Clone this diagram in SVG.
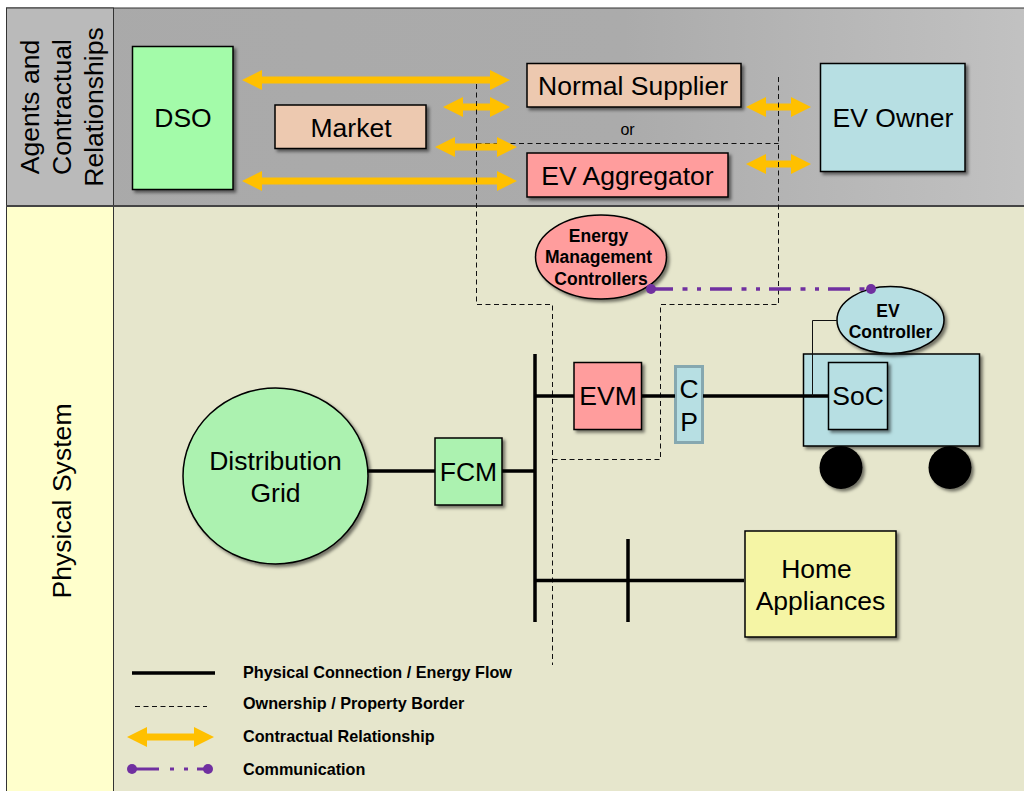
<svg xmlns="http://www.w3.org/2000/svg" width="1024" height="791" viewBox="0 0 1024 791">
<style>
text{font-family:"Liberation Sans",Arial,sans-serif;fill:#000;text-anchor:middle}
.t{font-size:26.500px}
.r{font-size:26.600px}
.b{font-size:17.500px;font-weight:bold}
.l{font-size:16.200px;font-weight:bold;text-anchor:start}
.n{stroke:#000;stroke-width:1.5;filter:url(#s)}
.p{fill:none;stroke:#000;stroke-width:3.5}
.d{fill:none;stroke:#111;stroke-width:1;stroke-dasharray:5 3.5}
.a{fill:#ffc000}
.c{fill:none;stroke:#7030a0;stroke-width:3.5;stroke-dasharray:22 9.5 5 9.5 4 9}
.e{fill:#7030a0}
</style>
<defs>
<filter id="s" x="-20%" y="-20%" width="140%" height="140%"><feDropShadow dx="2.5" dy="2.5" stdDeviation="1.5" flood-color="#000" flood-opacity=".5"/></filter>
<linearGradient id="g1"><stop offset="0" stop-color="#a9a9a9"/><stop offset=".6" stop-color="#ababab"/><stop offset="1" stop-color="#c2c2c2"/></linearGradient>
</defs>
<g id="panels">
<rect x="6.500" y="8" width="1030" height="198" fill="url(#g1)" stroke="#333"/>
<rect x="6.500" y="8" width="107" height="198" fill="#bababa" stroke="#333"/>
<rect x="6.500" y="206" width="107" height="600" fill="#ffffcc" stroke="#333"/>
<rect x="113.500" y="206" width="920" height="600" fill="#e6e6cc" stroke="#333"/>
<path d="M6 206H1024" stroke="#444" stroke-width="2"/>
<text class="r" transform="translate(38.500 107) rotate(-90)">Agents and</text>
<text class="r" transform="translate(70.500 107) rotate(-90)">Contractual</text>
<text class="r" transform="translate(102.500 107) rotate(-90)">Relationships</text>
<text class="r" transform="translate(71 501) rotate(-90)">Physical System</text>
</g>
<g id="dso"><rect class="n" x="132.500" y="46.500" width="100.500" height="143" fill="#a3fba9"/><text class="t" x="183" y="127">DSO</text></g>
<g id="market"><rect class="n" x="275" y="105" width="151" height="43.500" fill="#edc9b0"/><text class="t" x="351" y="137">Market</text></g>
<g id="normal-supplier"><rect class="n" x="527" y="63.500" width="214" height="43.500" fill="#edc9b0"/><text class="t" x="633" y="95">Normal Supplier</text></g>
<g id="or"><text x="627.500" y="135" style="font-size:16px">or</text></g>
<g id="ev-aggregator"><rect class="n" x="527" y="153" width="201" height="44" fill="#ff9d9d"/><text class="t" x="627.500" y="185">EV Aggregator</text></g>
<g id="ev-owner"><rect class="n" x="820.500" y="63.500" width="144.500" height="108" fill="#b7dfe3"/><text class="t" x="893" y="127">EV Owner</text></g>
<g id="emc"><ellipse class="n" cx="601" cy="257" rx="65.500" ry="42" fill="#ff9d9d"/><text class="b" x="598.500" y="242">Energy</text><text class="b" x="598.500" y="263">Management</text><text class="b" x="601" y="285">Controllers</text></g>
<g id="ev"><rect class="n" x="803.500" y="354" width="176" height="92" fill="#b7dfe3"/>
<circle cx="841" cy="467.500" r="21.500" fill="#000" filter="url(#s)"/><circle cx="950" cy="467.500" r="21.500" fill="#000" filter="url(#s)"/></g>
<g id="ev-controller"><ellipse class="n" cx="890.500" cy="320" rx="53.500" ry="33.500" fill="#b7dfe3"/><text class="b" x="888" y="317">EV</text><text class="b" x="890.500" y="338">Controller</text></g>
<g id="soc"><rect class="n" x="828.500" y="362.500" width="59" height="67" fill="#b7dfe3"/><text class="t" x="858" y="405">SoC</text></g>
<g id="evm"><rect class="n" x="574" y="362.500" width="67.500" height="67" fill="#ff9d9d"/><text class="t" x="608" y="405">EVM</text></g>
<g id="cp"><rect x="675.500" y="366.500" width="27" height="76" fill="#b7dfe3" stroke="#86a8b0" stroke-width="3"/><text class="t" x="689" y="398">C</text><text class="t" x="689" y="431">P</text></g>
<g id="distribution-grid"><ellipse class="n" cx="275.500" cy="476" rx="92.500" ry="88" fill="#acf2b0"/><text class="t" x="275.500" y="470">Distribution</text><text class="t" x="275.500" y="502">Grid</text></g>
<g id="fcm"><rect class="n" x="435" y="438" width="67" height="67" fill="#acf2b0"/><text class="t" x="468.500" y="481">FCM</text></g>
<g id="home-appliances"><rect class="n" x="745" y="531" width="151" height="106" fill="#f5f5a5"/><text class="t" x="816.500" y="578">Home</text><text class="t" x="820.500" y="610">Appliances</text></g>
<g id="connectors">
<path class="d" d="M476.500 143.500H778.500"/>
<path class="a" d="M242 80l20-10v6.500h228V70l20 10-20 10v-6.500H262V90z"/>
<path class="a" d="M443 107l20-10v6.500h27V97l20 10-20 10v-6.500H463V117z"/>
<path class="a" d="M435 147l20-10v6.500h42V137l20 10-20 10v-6.500H455V157z"/>
<path class="a" d="M242 181l20-10v6.500h235V171l20 10-20 10v-6.500H262V191z"/>
<path class="a" d="M746 107l20-10v6.500h25V97l20 10-20 10v-6.500H766V117z"/>
<path class="a" d="M746 164l20-10v6.500h25V154l20 10-20 10v-6.500H766V174z"/>
<path class="d" d="M476.500 84V304.500H552.500V665M778.500 77V304.500H660.500V459.500H552.500"/>
<path class="p" d="M535 354V622M535 396H574M641 396H675M703 396H828M368 471H435M502 471H535M535 580.500H744M628 539V622"/>
<path d="M837 320.500H812.500V396" fill="none" stroke="#111" stroke-width="1"/>
<path class="c" d="M651 289H871"/>
<circle class="e" cx="651" cy="289" r="5"/>
<circle class="e" cx="871" cy="289" r="5"/>
</g>
<g id="legend">
<path class="p" d="M132 673H215"/>
<path class="d" d="M135 706.500H207"/>
<path class="a" d="M127 737l20-10v6.500h47V727l20 10-20 10v-6.500H147V747z"/>
<path d="M132 769H159M170 769h4M184 769h4M197 769H208" fill="none" stroke="#7030a0" stroke-width="3"/>
<circle class="e" cx="132" cy="769" r="5"/><circle class="e" cx="208" cy="769" r="5"/>
<text class="l" x="243" y="678">Physical Connection / Energy Flow</text>
<text class="l" x="243" y="709">Ownership / Property Border</text>
<text class="l" x="243" y="742">Contractual Relationship</text>
<text class="l" x="243" y="775">Communication</text>
</g>
</svg>
